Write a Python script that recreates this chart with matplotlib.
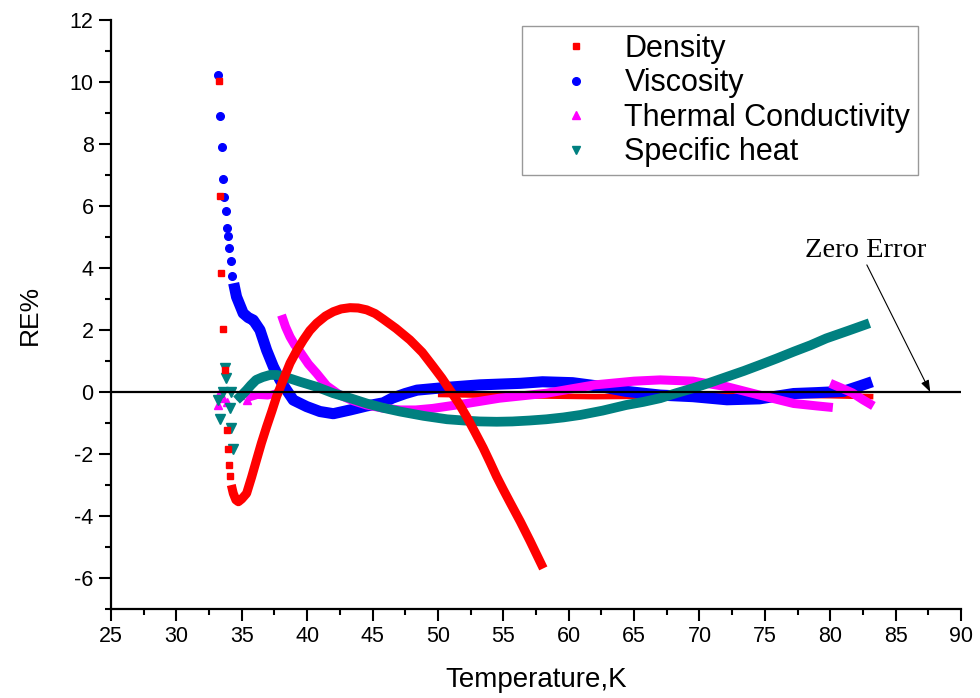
import matplotlib
matplotlib.use("Agg")
import matplotlib.pyplot as plt
from matplotlib.lines import Line2D
from matplotlib.ticker import MultipleLocator

plt.rcParams['font.family'] = ['Liberation Sans', 'DejaVu Sans']
plt.rcParams['axes.unicode_minus'] = False

# Density: scattered points at the start, the main curve and the flat tail
density_start_x = [33.28, 33.30, 33.43, 33.59, 33.70, 33.84, 33.91, 34.04, 34.12]
density_start_y = [10.04, 6.31, 3.83, 2.02, 0.70, -1.23, -1.85, -2.34, -2.71]
density_x = [34.20, 34.35, 34.55, 34.74, 35.00, 35.37, 35.75, 36.13, 36.50, 36.90, 37.30,
             37.66, 38.20, 38.69, 39.20, 39.71, 40.20, 40.73, 41.40, 42.00, 42.60, 43.28,
             43.90, 44.55, 45.20, 45.82, 46.80, 47.86, 48.80, 49.64, 50.30, 50.92, 51.60,
             52.20, 52.80, 53.46, 54.00, 54.48, 55.00, 55.50, 56.30, 57.04, 58.06]
density_y = [-3.00, -3.27, -3.48, -3.54, -3.45, -3.27, -2.75, -2.19, -1.65, -1.12, -0.62,
             -0.15, 0.42, 0.93, 1.33, 1.68, 1.98, 2.22, 2.45, 2.59, 2.68, 2.72,
             2.71, 2.65, 2.53, 2.35, 2.05, 1.68, 1.28, 0.82, 0.45, 0.06, -0.37,
             -0.80, -1.27, -1.80, -2.28, -2.72, -3.15, -3.55, -4.18, -4.80, -5.69]
density_tail_x = [50.0, 56.0, 62.0, 68.0, 74.0, 80.0, 83.3]
density_tail_y = [-0.08, -0.12, -0.15, -0.13, -0.10, -0.12, -0.15]

# Viscosity
viscosity_start_x = [33.20, 33.35, 33.46, 33.56, 33.64, 33.77, 33.84, 33.96, 34.04, 34.17, 34.27]
viscosity_start_y = [10.24, 8.89, 7.91, 6.87, 6.28, 5.85, 5.30, 5.03, 4.65, 4.23, 3.74]
viscosity_x = [34.38, 34.60, 35.11, 35.50, 35.88, 36.39, 36.90, 37.41, 37.92, 38.43, 38.94,
               39.96, 40.98, 42.00, 43.28, 44.55, 45.82, 46.50, 47.50, 48.40, 50.70, 53.20,
               56.30, 58.00, 60.30, 62.10, 64.40, 67.00, 69.50, 72.10, 74.60, 77.20, 79.00,
               81.00, 82.30, 83.20]
viscosity_y = [3.51, 3.07, 2.54, 2.40, 2.32, 2.00, 1.35, 0.82, 0.39, 0.06, -0.26,
               -0.47, -0.63, -0.70, -0.58, -0.45, -0.35, -0.20, -0.05, 0.06, 0.15, 0.23,
               0.28, 0.33, 0.30, 0.20, 0.02, -0.10, -0.15, -0.25, -0.22, -0.05, -0.02,
               0.02, 0.20, 0.33]

# Thermal conductivity
thermal_start_x = [33.20, 33.30, 33.60, 33.85, 34.90, 35.40]
thermal_start_y = [-0.42, 0.00, -0.20, -0.31, -0.10, -0.26]
thermal_low_x = [35.40, 36.20, 37.00, 37.90]
thermal_low_y = [-0.20, -0.10, -0.12, 0.00]
thermal_x = [38.04, 38.35, 38.69, 39.05, 39.45, 40.10, 40.73, 41.50, 42.50, 43.50, 44.55,
             45.80, 47.10, 48.30, 49.60, 52.20, 54.70, 56.50, 58.30, 60.20, 62.00, 65.00,
             67.00, 69.50, 72.10, 74.60, 77.20, 79.00, 80.20]
thermal_y = [2.48, 2.10, 1.78, 1.52, 1.30, 0.90, 0.60, 0.20, -0.10, -0.28, -0.42,
             -0.52, -0.58, -0.58, -0.53, -0.37, -0.20, -0.12, -0.04, 0.10, 0.23, 0.35,
             0.39, 0.35, 0.17, -0.10, -0.37, -0.45, -0.50]
thermal_end_x = [80.0, 81.0, 81.7, 82.5, 83.3]
thermal_end_y = [0.28, 0.10, -0.03, -0.25, -0.45]

# Specific heat
heat_start_x = [33.20, 33.33, 33.60, 33.72, 33.80, 34.10, 34.20, 34.20, 34.30]
heat_start_y = [-0.26, -0.88, 0.00, 0.76, 0.44, -0.53, 0.00, -1.17, -1.85]
heat_x = [34.60, 35.00, 35.37, 35.70, 36.10, 36.60, 37.16, 37.70, 38.20, 38.80, 39.45,
          40.70, 42.00, 43.30, 44.55, 45.80, 47.10, 48.90, 50.70, 52.00, 53.20, 54.50,
          55.70, 57.00, 58.30, 59.60, 60.90, 62.60, 64.40, 65.70, 67.00, 68.20, 69.50,
          70.80, 72.10, 73.40, 74.60, 75.90, 77.20, 78.50, 79.70, 81.40, 83.00]
heat_y = [-0.26, -0.10, 0.06, 0.22, 0.39, 0.48, 0.55, 0.55, 0.50, 0.42, 0.33,
          0.17, -0.04, -0.20, -0.37, -0.51, -0.63, -0.77, -0.88, -0.92, -0.95, -0.96,
          -0.95, -0.92, -0.88, -0.82, -0.74, -0.60, -0.42, -0.32, -0.20, -0.04, 0.12,
          0.30, 0.49, 0.68, 0.87, 1.08, 1.30, 1.51, 1.73, 1.98, 2.22]

RED = '#ff0000'
BLUE = '#0000ff'
MAGENTA = '#ff00ff'
TEAL = '#008080'


def band(ax, x, y, color, lw, z):
    ax.plot(x, y, color=color, lw=lw, solid_capstyle='butt',
            solid_joinstyle='round', zorder=z)


def main():
    fig = plt.figure(figsize=(9.8, 6.98), dpi=100)
    ax = fig.add_axes([111 / 980, 89 / 698, 850 / 980, 589 / 698])

    # viscosity
    band(ax, viscosity_x, viscosity_y, BLUE, 8, 2)
    ax.plot(viscosity_start_x, viscosity_start_y, 'o', color=BLUE, ms=5.5, zorder=2)

    # thermal conductivity
    band(ax, thermal_low_x, thermal_low_y, MAGENTA, 5.5, 3)
    band(ax, thermal_x, thermal_y, MAGENTA, 6.5, 3)
    band(ax, thermal_end_x, thermal_end_y, MAGENTA, 6.5, 3)
    ax.plot(thermal_start_x, thermal_start_y, '^', color=MAGENTA, ms=6, zorder=3)

    # specific heat
    band(ax, heat_x, heat_y, TEAL, 7, 4)
    ax.plot(heat_start_x, heat_start_y, 'v', color=TEAL, ms=6.5, zorder=4)

    # density
    band(ax, density_tail_x, density_tail_y, RED, 4, 1)
    band(ax, density_x, density_y, RED, 6.5, 5)
    ax.plot(density_start_x, density_start_y, 's', color=RED, ms=5, zorder=5)

    # zero line + note
    ax.axhline(0, color='black', lw=1.6, zorder=10)
    ax.annotate('', xy=(87.65, 0.0), xytext=(82.8, 4.1),
                arrowprops=dict(arrowstyle='-|>,head_length=0.7,head_width=0.25',
                                color='black', lw=0.8, shrinkA=0, shrinkB=0), zorder=11)
    ax.text(82.7, 4.35, 'Zero Error', family=['Liberation Serif', 'DejaVu Serif'],
            fontsize=20.5, ha='center', va='baseline')

    ax.set_xlim(25, 90)
    ax.set_ylim(-7, 12)
    ax.xaxis.set_major_locator(MultipleLocator(5))
    ax.xaxis.set_minor_locator(MultipleLocator(2.5))
    ax.yaxis.set_minor_locator(MultipleLocator(1))
    ax.set_yticks([-6, -4, -2, 0, 2, 4, 6, 8, 10, 12])

    ax.spines['top'].set_visible(False)
    ax.spines['right'].set_visible(False)
    ax.spines['left'].set_linewidth(1.6)
    ax.spines['bottom'].set_linewidth(1.6)
    ax.tick_params(which='major', direction='out', length=8.5, width=1.5,
                   labelsize=15.5, pad=4)
    ax.tick_params(which='minor', direction='out', length=4.5, width=1.5)

    ax.set_xlabel('Temperature,K', fontsize=20, labelpad=14)
    ax.set_ylabel('RE%', fontsize=19, labelpad=20)

    handles = [
        Line2D([], [], ls='none', marker='s', color=RED, ms=5),
        Line2D([], [], ls='none', marker='o', color=BLUE, ms=5.5),
        Line2D([], [], ls='none', marker='^', color=MAGENTA, ms=6),
        Line2D([], [], ls='none', marker='v', color=TEAL, ms=6),
    ]
    labels = ['Density', 'Viscosity', 'Thermal Conductivity', 'Specific heat']
    leg = fig.legend(handles, labels, loc='upper right',
                     bbox_to_anchor=(918 / 980, 1 - 26 / 698),
                     bbox_transform=fig.transFigure, fontsize=22,
                     frameon=True, fancybox=False, borderaxespad=0,
                     handlelength=3.0, handletextpad=0.1, labelspacing=0.15,
                     borderpad=0.25)
    leg.get_frame().set_edgecolor('#808080')
    leg.get_frame().set_linewidth(1.0)

    fig.savefig('out.png', dpi=100)


if __name__ == "__main__":
    main()
